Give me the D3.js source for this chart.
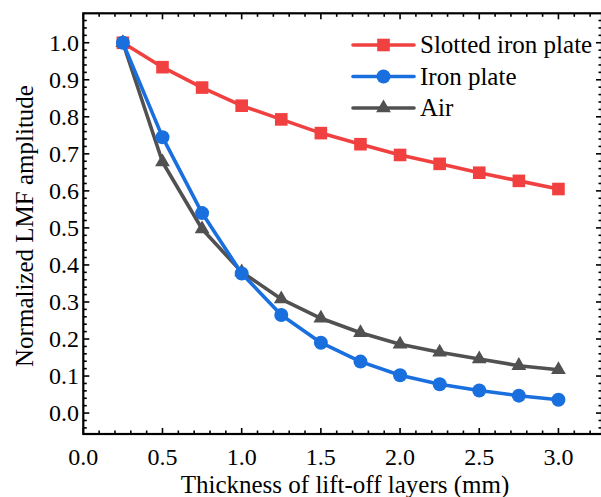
<!DOCTYPE html>
<html>
<head>
<meta charset="utf-8">
<script src="https://cdn.jsdelivr.net/npm/d3@7"></script>
</head>
<body style="margin:0">
<script>
// data
const thickness = [0.25, 0.5, 0.75, 1.0, 1.25, 1.5, 1.75, 2.0, 2.25, 2.5, 2.75, 3.0];
const slottedIron = [1.0, 0.934, 0.879, 0.830, 0.793, 0.756, 0.726, 0.697, 0.673, 0.649, 0.627, 0.605];
const ironPlate = [1.0, 0.745, 0.540, 0.377, 0.265, 0.190, 0.139, 0.102, 0.078, 0.061, 0.047, 0.036];
const air = [1.0, 0.678, 0.497, 0.381, 0.308, 0.256, 0.217, 0.186, 0.164, 0.146, 0.128, 0.117];
const xTicks = [0.0, 0.5, 1.0, 1.5, 2.0, 2.5, 3.0];
const yTicks = [0.0, 0.1, 0.2, 0.3, 0.4, 0.5, 0.6, 0.7, 0.8, 0.9, 1.0];

const series = [
  { name: "Slotted iron plate", values: slottedIron, color: "#F14040", marker: "square" },
  { name: "Iron plate", values: ironPlate, color: "#1A6FDF", marker: "circle" },
  { name: "Air", values: air, color: "#515151", marker: "triangle" }
];

const width = 601, height = 497;
const pL = 83.3, pR = 602, pT = 13.3, pB = 434;
const FONT = "Liberation Serif";

const svg = d3.select("body").append("svg")
  .attr("width", width)
  .attr("height", height)
  .style("display", "block");

const x = d3.scaleLinear().domain([0, 3.275]).range([pL, pR]);
const y = d3.scaleLinear().domain([-0.0565, 1.0795]).range([pB, pT]);

// minor ticks
const xMinor = d3.range(0, 33).map(i => i / 10).filter(v => Math.round(v * 10) % 5 !== 0);
const yMinor = d3.range(-2, 54).map(i => i / 50).filter(v => Math.round(v * 50) % 5 !== 0);

function drawTicks(g, scale, vals, len, orient) {
  vals.forEach(v => {
    const p = scale(v);
    if (orient === "bottom") g.append("line").attr("x1", p).attr("x2", p).attr("y1", pB).attr("y2", pB - len);
    if (orient === "top") g.append("line").attr("x1", p).attr("x2", p).attr("y1", pT).attr("y2", pT + len);
    if (orient === "left") g.append("line").attr("y1", p).attr("y2", p).attr("x1", pL).attr("x2", pL + len);
    if (orient === "right") g.append("line").attr("y1", p).attr("y2", p).attr("x1", pR).attr("x2", pR - len);
  });
}
const tg = svg.append("g").attr("stroke", "#000").attr("stroke-width", 1.6);
drawTicks(tg, x, xTicks, 6, "bottom");
drawTicks(tg, x, xMinor, 3.5, "bottom");
drawTicks(tg, x, xTicks, 6, "top");
drawTicks(tg, x, xMinor, 3.5, "top");
drawTicks(tg, y, yTicks, 6, "left");
drawTicks(tg, y, yMinor, 3.5, "left");
drawTicks(tg, y, yTicks, 6, "right");
drawTicks(tg, y, yMinor, 3.5, "right");

// frame
svg.append("rect")
  .attr("x", pL).attr("y", pT)
  .attr("width", pR - pL).attr("height", pB - pT)
  .attr("fill", "none").attr("stroke", "#000").attr("stroke-width", 2.2);

// tick labels
svg.append("g").selectAll("text").data(xTicks).join("text")
  .attr("x", d => x(d)).attr("y", 465)
  .attr("text-anchor", "middle")
  .attr("font-family", FONT)
  .attr("font-size", 24)
  .text(d => d.toFixed(1));

svg.append("g").selectAll("text").data(yTicks).join("text")
  .attr("x", 79).attr("y", d => y(d) + 8)
  .attr("text-anchor", "end")
  .attr("font-family", FONT)
  .attr("font-size", 24)
  .text(d => d.toFixed(1));

// axis titles
svg.append("text")
  .attr("x", 345).attr("y", 493)
  .attr("text-anchor", "middle")
  .attr("font-family", FONT)
  .attr("font-size", 25)
  .text("Thickness of lift-off layers (mm)");

svg.append("text")
  .attr("transform", "translate(33,226) rotate(-90)")
  .attr("text-anchor", "middle")
  .attr("font-family", FONT)
  .attr("font-size", 25)
  .text("Normalized LMF amplitude");

// markers
function drawMarker(g, type, cx, cy, color) {
  if (type === "square") {
    g.append("rect").attr("x", cx - 6.3).attr("y", cy - 6.3).attr("width", 12.6).attr("height", 12.6).attr("fill", color);
  } else if (type === "circle") {
    g.append("circle").attr("cx", cx).attr("cy", cy).attr("r", 7).attr("fill", color);
  } else {
    const s = d3.symbol().type(d3.symbolTriangle).size(95);
    g.append("path").attr("d", s()).attr("transform", `translate(${cx},${cy})`).attr("fill", color);
  }
}

const line = d3.line().x((d, i) => x(thickness[i])).y(d => y(d));

// red first, then gray, blue on top like the figure
[series[0], series[2], series[1]].forEach(s => {
  const g = svg.append("g");
  g.append("path").datum(s.values)
    .attr("d", line)
    .attr("fill", "none")
    .attr("stroke", s.color)
    .attr("stroke-width", 3.6)
    .attr("stroke-linejoin", "round");
  s.values.forEach((v, i) => drawMarker(g, s.marker, x(thickness[i]), y(v), s.color));
});

// legend
const lg = svg.append("g");
series.forEach((s, i) => {
  const ly = 45 + i * 31.5;
  lg.append("line")
    .attr("x1", 353).attr("x2", 414).attr("y1", ly).attr("y2", ly)
    .attr("stroke", s.color).attr("stroke-width", 3.6).attr("stroke-linecap", "round");
  drawMarker(lg, s.marker, 383.5, ly, s.color);
  lg.append("text")
    .attr("x", 420).attr("y", ly + 8)
    .attr("font-family", FONT)
    .attr("font-size", 25)
    .text(s.name);
});
</script>
</body>
</html>
